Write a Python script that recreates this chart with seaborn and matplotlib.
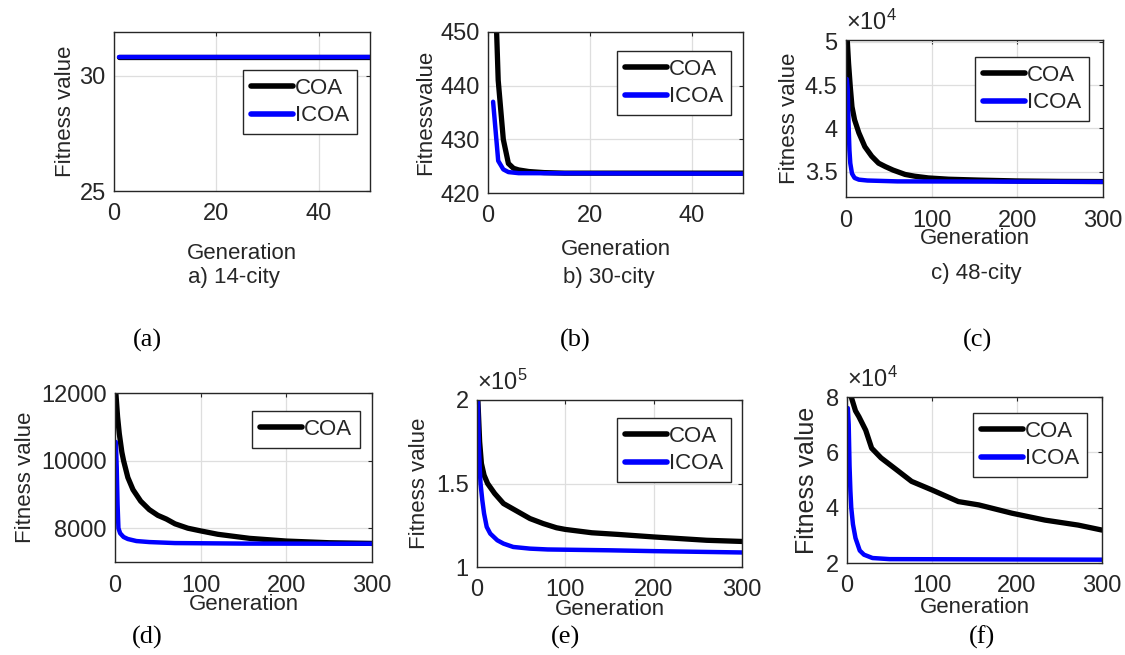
import numpy as np
import pandas as pd
import seaborn as sns
import matplotlib.pyplot as plt
from matplotlib.lines import Line2D
from matplotlib.ticker import FuncFormatter

# ---- data (generation, fitness) ----
# a) 14-city
gen_a_coa = [1, 50]
coa_a = [30.8, 30.8]
gen_a_icoa = [1, 50]
icoa_a = [30.8, 30.8]

# b) 30-city
gen_b_coa = [1, 2, 3, 4, 5, 6, 8, 11, 15, 50]
coa_b = [470, 441, 430, 425.5, 424.6, 424.3, 424.0, 423.8, 423.7, 423.7]
gen_b_icoa = [1, 2, 3, 4, 6, 50]
icoa_b = [437, 426, 424.4, 423.9, 423.7, 423.6]

# c) 48-city
gen_c_coa = [1, 3, 5, 7, 10, 15, 22, 30, 38, 46, 55, 69, 80, 96, 120, 155, 200, 250, 300]
coa_c = [51000, 47500, 44800, 42500, 41000, 39500, 37900, 36800, 36000, 35600, 35200,
         34700, 34500, 34300, 34150, 34050, 33950, 33900, 33880]
gen_c_icoa = [1, 2, 3, 4, 5, 7, 10, 15, 25, 60, 300]
icoa_c = [45700, 44500, 40500, 37500, 36000, 34800, 34300, 34100, 34000, 33900, 33850]

# d)
gen_d_coa = [1, 3, 5, 8, 10, 15, 21, 30, 40, 50, 60, 70, 85, 100, 120, 157, 200, 250, 300]
coa_d = [12000, 11300, 10800, 10250, 10000, 9500, 9140, 8800, 8550, 8380, 8270, 8130,
         8000, 7920, 7820, 7700, 7620, 7570, 7550]
gen_d_icoa = [1, 2, 3, 4, 6, 10, 15, 25, 40, 70, 150, 300]
icoa_d = [10550, 9800, 8700, 8000, 7850, 7740, 7680, 7620, 7590, 7560, 7545, 7540]

# e)
gen_e_coa = [1, 3, 5, 8, 12, 20, 30, 40, 50, 60, 75, 90, 100, 130, 160, 200, 230, 260, 300]
coa_e = [200000, 175000, 162000, 155000, 150000, 144000, 138000, 135000, 132000, 129000,
         126000, 123500, 122500, 120500, 119500, 118000, 117000, 116000, 115300]
gen_e_icoa = [1, 2, 3, 4, 6, 8, 11, 15, 23, 30, 41, 60, 80, 150, 200, 300]
icoa_e = [200000, 175000, 160000, 150000, 140000, 132000, 124000, 120000, 116000, 114000,
          112000, 111000, 110500, 110000, 109500, 108700]

# f)
gen_f_coa = [1, 5, 10, 14, 22, 29, 40, 57, 76, 100, 131, 155, 194, 233, 272, 300]
coa_f = [86000, 80000, 75000, 72900, 68000, 61500, 58000, 54000, 49500, 46400, 42200,
         41000, 38000, 35500, 33700, 31900]
gen_f_icoa = [1, 2, 3, 4, 5, 7, 10, 15, 20, 30, 50, 300]
icoa_f = [76000, 70000, 55000, 46000, 40000, 34000, 29000, 24500, 23000, 21800, 21400, 21200]

captions = ["(a)", "(b)", "(c)", "(d)", "(e)", "(f)"]

sns.set_style("whitegrid")
plt.rcParams['font.family'] = ['Liberation Sans', 'DejaVu Sans']
plt.rcParams['mathtext.fontset'] = 'custom'
plt.rcParams['mathtext.rm'] = 'Liberation Sans'
plt.rcParams['mathtext.it'] = 'Liberation Sans'

GRAY = '#262626'
W, H = 1125, 655
fig = plt.figure(figsize=(11.25, 6.55), dpi=100)


def px_axes(left, right, top, bottom):
    return fig.add_axes([left / W, 1 - bottom / H, (right - left) / W, (bottom - top) / H])


def draw(ax, gc, yc, gi, yi, xlim, xticks, ylim, yticks, scale=1, ylabel="Fitness value",
         ylabel_x=None, xlabel_y=None, legend_box=None, only_coa=False, ylabel_size=16):
    sns.lineplot(x=gc, y=yc, ax=ax, color='black', lw=3.8, label='COA')
    sns.lineplot(x=gi, y=yi, ax=ax, color='#0000ff', lw=3.2, label='ICOA')
    ax.set_xlim(xlim)
    ax.set_ylim(ylim)
    ax.set_xticks(xticks)
    ax.set_yticks(yticks)
    ax.yaxis.set_major_formatter(FuncFormatter(lambda v, p: f"{v / scale:g}"))
    ax.grid(True, color='#dedede', lw=0.9)
    for s in ax.spines.values():
        s.set_color(GRAY)
        s.set_linewidth(1.0)
    ax.tick_params(axis='both', direction='in', length=3, color=GRAY, labelcolor=GRAY,
                   labelsize=17, top=True, right=True)
    ax.tick_params(axis='x', pad=9)
    ax.tick_params(axis='y', pad=6)
    ax.set_ylabel(ylabel, fontsize=ylabel_size, color=GRAY)
    ax.set_xlabel("Generation", fontsize=16, color=GRAY)
    bb = ax.get_position()
    # label positions given as pixel centres in the reference
    ax.yaxis.set_label_coords(((ylabel_x + 14) / W - bb.x0) / bb.width, 0.5)
    ax.xaxis.set_label_coords(0.5, ((1 - (xlabel_y - 9) / H) - bb.y0) / bb.height)
    handles = [Line2D([], [], color='black', lw=4)]
    labels = ['COA']
    if not only_coa:
        handles.append(Line2D([], [], color='#0000ff', lw=4))
        labels.append('ICOA')
    lx, ly = legend_box
    leg = ax.legend(handles, labels, loc='upper left', bbox_to_anchor=(lx / W, 1 - ly / H),
                    bbox_transform=fig.transFigure, borderaxespad=0, fontsize=16,
                    handlelength=1.9, handletextpad=0.1, borderpad=0.35, labelspacing=0.3,
                    fancybox=False, framealpha=1, edgecolor=GRAY)
    leg.get_frame().set_linewidth(1.0)
    for t in leg.get_texts():
        t.set_color(GRAY)


ax_a = px_axes(114, 370, 32, 191)
draw(ax_a, gen_a_coa, coa_a, gen_a_icoa, icoa_a, (0, 50), [0, 20, 40], (25, 31.9), [25, 30],
     ylabel_x=62, xlabel_y=252, legend_box=(243, 70))
ax_b = px_axes(488, 743, 32, 193)
draw(ax_b, gen_b_coa, coa_b, gen_b_icoa, icoa_b, (0, 50), [0, 20, 40], (420, 450),
     [420, 430, 440, 450], ylabel="Fitnessvalue", ylabel_x=422, xlabel_y=248,
     legend_box=(617, 51))
ax_c = px_axes(846, 1103, 40, 197)
draw(ax_c, gen_c_coa, coa_c, gen_c_icoa, icoa_c, (0, 300), [0, 100, 200, 300], (32100, 50200),
     [35000, 40000, 45000, 50000], scale=1e4, ylabel_x=786, xlabel_y=237,
     legend_box=(975, 57))
ax_d = px_axes(115, 372, 393, 562)
draw(ax_d, gen_d_coa, coa_d, gen_d_icoa, icoa_d, (0, 300), [0, 100, 200, 300], (7000, 12000),
     [8000, 10000, 12000], ylabel_x=22, xlabel_y=603, legend_box=(252, 411), only_coa=True)
ax_e = px_axes(477, 742, 400, 567)
draw(ax_e, gen_e_coa, coa_e, gen_e_icoa, icoa_e, (0, 300), [0, 100, 200, 300], (100000, 200000),
     [100000, 150000, 200000], scale=1e5, ylabel_x=416, xlabel_y=608,
     legend_box=(617, 418))
ax_f = px_axes(847, 1102, 397, 563)
draw(ax_f, gen_f_coa, coa_f, gen_f_icoa, icoa_f, (0, 300), [0, 100, 200, 300], (20000, 80000),
     [20000, 40000, 60000, 80000], scale=1e4, ylabel_x=805, xlabel_y=606,
     legend_box=(973, 413), ylabel_size=18)

# MATLAB-style exponent labels
for ax, txt in [(ax_c, r'$\times10^{4}$'), (ax_e, r'$\times10^{5}$'), (ax_f, r'$\times10^{4}$')]:
    ax.text(0.0, 1.03, txt, transform=ax.transAxes, ha='left', va='bottom',
            fontsize=17, color=GRAY)

# sub-captions of the top row
for x, y, t in [(234, 278, "a) 14-city"), (609, 277, "b) 30-city"), (976, 273, "c) 48-city")]:
    fig.text(x / W, 1 - y / H, t, ha='center', va='center', fontsize=16, color=GRAY)

# (a)...(f) labels
for (x, y), t in zip([(147, 340), (575, 340), (978, 340), (147, 637), (565, 637), (982, 637)],
                     captions):
    fig.text(x / W, 1 - y / H, t, ha='center', va='center', fontsize=19,
             family='Liberation Serif', color='black')

fig.savefig("out.png", dpi=100)
